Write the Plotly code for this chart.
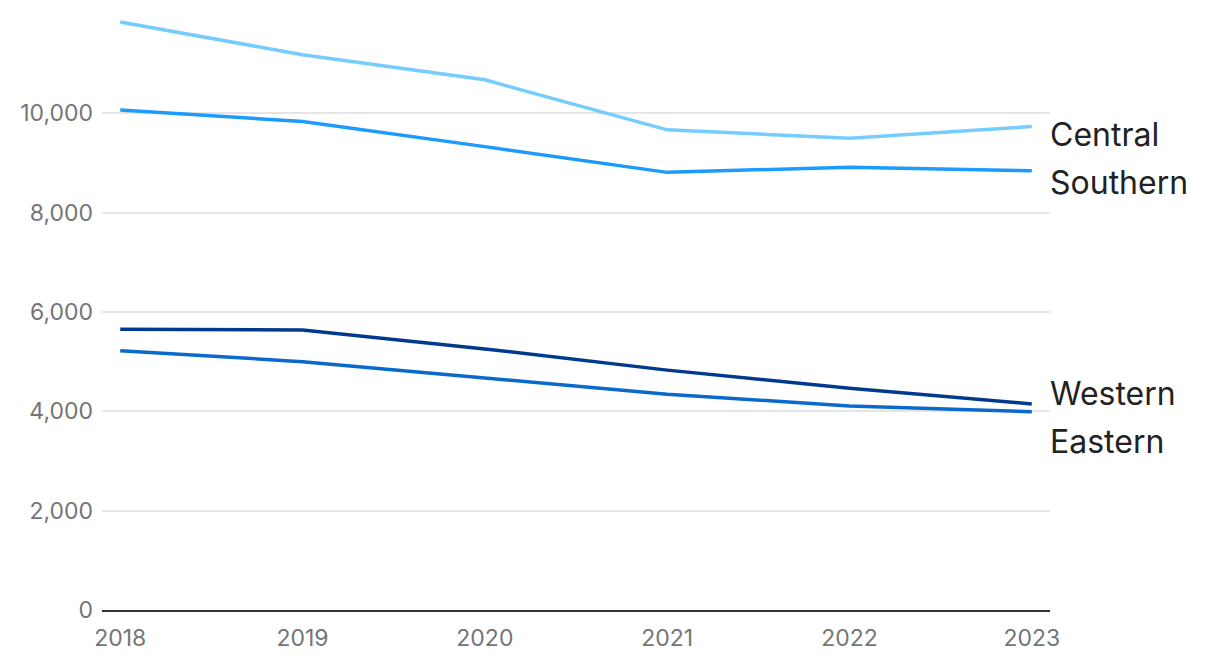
import plotly.graph_objects as go

years = [2018, 2019, 2020, 2021, 2022, 2023]
central = [11840, 11180, 10675, 9668, 9500, 9734]
southern = [10070, 9835, 9330, 8812, 8916, 8842]
western = [5654, 5640, 5257, 4830, 4465, 4149]
eastern = [5222, 5000, 4673, 4344, 4109, 3994]

series_names = ["Central", "Southern", "Western", "Eastern"]
series_values = [central, southern, western, eastern]
colors = ["#74CCFF", "#1C9BFD", "#003A8C", "#0A6ACB"]
label_y = [9567, 8600, 4350, 3390]

FONT = "Inter, Roboto, sans-serif"

fig = go.Figure()
for name, vals, col in zip(series_names, series_values, colors):
    fig.add_trace(go.Scatter(x=years, y=vals, mode="lines", name=name,
                             line=dict(color=col, width=3.5), hoverinfo="x+y+name"))

for name, ly in zip(series_names, label_y):
    fig.add_annotation(x=1.0, xref="paper", y=ly, yref="y", text=name,
                       showarrow=False, xanchor="left", yanchor="middle",
                       xshift=-2, font=dict(family=FONT, size=32, color="#222222"))

fig.update_layout(
    width=1212, height=652,
    margin=dict(l=94, r=170, t=11, b=50),
    plot_bgcolor="white", paper_bgcolor="white",
    showlegend=False,
    font=dict(family=FONT, color="#757575", size=23),
    xaxis=dict(range=[2017.9, 2023.1], tickvals=years, ticktext=[str(y) for y in years],
               showgrid=False, showline=True, linecolor="#333333", linewidth=2,
               ticks="", zeroline=False, ticklabelstandoff=6, automargin=False,
               tickfont=dict(size=23, color="#757575")),
    yaxis=dict(range=[0, 11900], tickvals=[0, 2000, 4000, 6000, 8000, 10000],
               ticktext=["0", "2,000", "4,000", "6,000", "8,000", "10,000"],
               showgrid=True, gridcolor="#e5e5e5", gridwidth=2, zeroline=False,
               ticks="", showline=False, ticklabelstandoff=8, automargin=False,
               tickfont=dict(size=23, color="#757575")),
)

fig.write_html("out.html")
